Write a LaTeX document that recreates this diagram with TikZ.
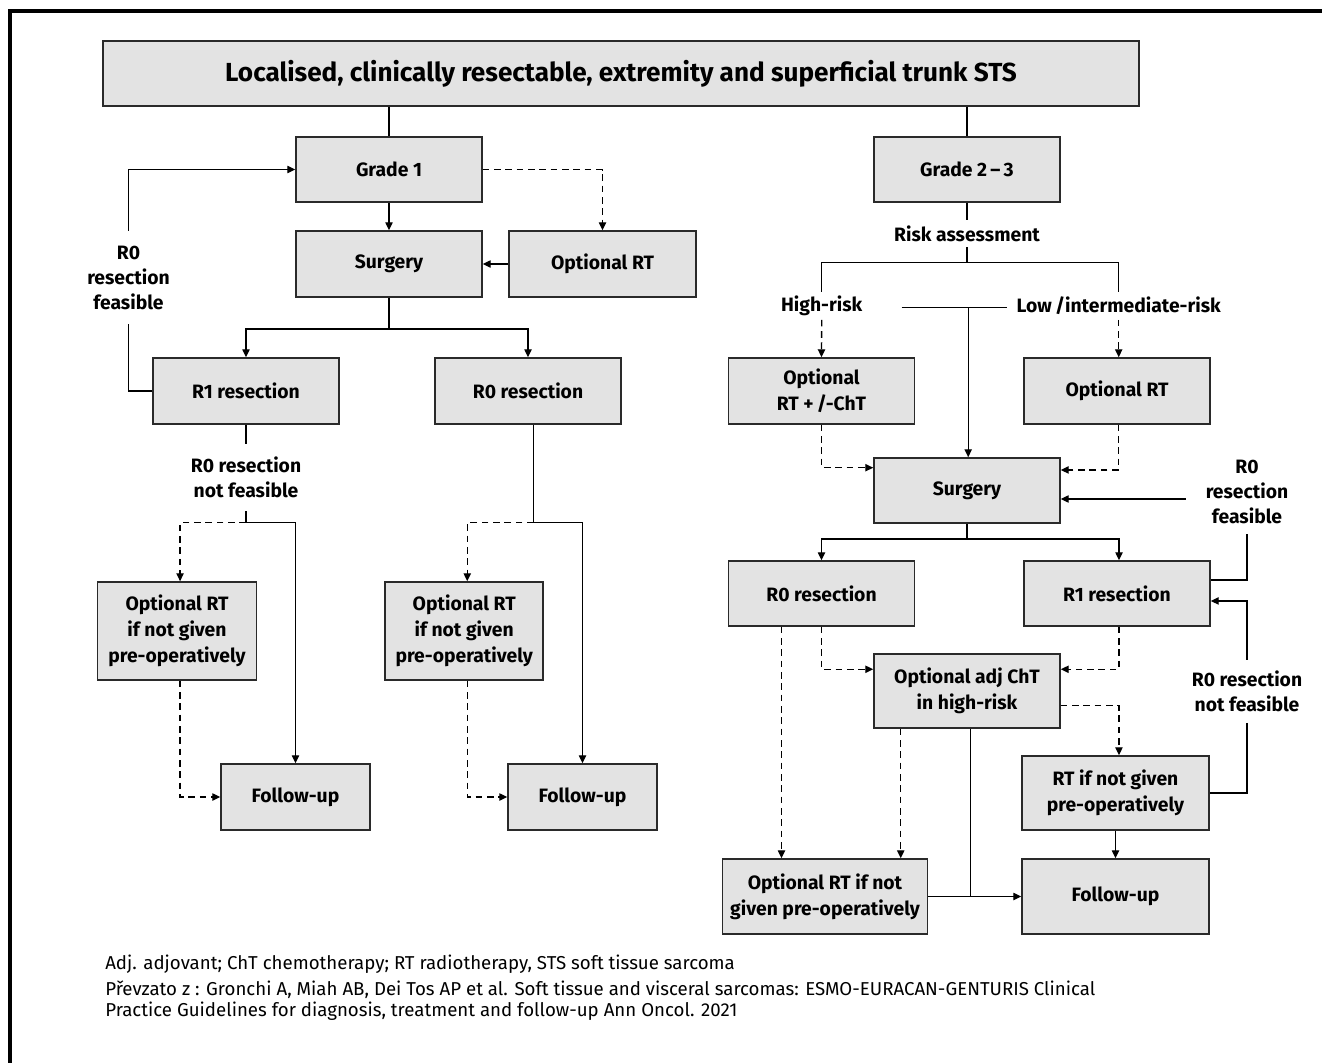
\documentclass[tikz,border=0pt]{standalone}
\usepackage{fontspec}
\setmainfont{Fira Sans}
\usetikzlibrary{arrows.meta}
\definecolor{boxfill}{HTML}{E3E3E3}
\definecolor{boxdraw}{HTML}{2A2A2A}
\begin{document}
\begin{tikzpicture}[x=0.75pt,y=-0.75pt,
  sz/.style 2 args={minimum width=#1*0.75pt,minimum height=#2*0.75pt},
  box/.style={draw=boxdraw,fill=boxfill,line width=1.1pt,inner sep=0pt,align=center,
    font=\bfseries\fontsize{14.5}{19.5}\selectfont},
  titlebox/.style={box,font=\bfseries\fontsize{19.6}{23}\selectfont},
  lbl/.style={inner sep=0pt,align=center,font=\bfseries\fontsize{14.5}{18.75}\selectfont},
  foot/.style={inner sep=0pt,align=left,anchor=west,font=\fontsize{14}{15.6}\selectfont},
  conn/.style={line width=1pt,draw=black},
  arr/.style={conn,-{Triangle[length=6pt,width=5.5pt]}},
  dsh/.style={conn,dash pattern=on 5pt off 3.5pt},
  darr/.style={arr,dash pattern=on 5pt off 3.5pt}]
\useasboundingbox (0,0) rectangle (1322,1063);
\fill[white] (0,0) rectangle (1322,1063);
\draw[line width=2.6pt] (10,1063) -- (10,11) -- (1322,11);

% ---------- boxes ----------
\node[titlebox,sz={1036}{65}] (title) at (621,73.5) {Localised, clinically resectable, extremity and superficial trunk STS};
% left branch
\node[box,sz={186}{65}] (g1) at (389,169.5) {Grade 1};
\node[box,sz={186}{66}] (surg1) at (389,264) {Surgery};
\node[box,sz={187}{66}] (optrt1) at (602.5,264) {Optional RT};
\node[box,sz={186}{66}] (r1L) at (246,391) {R1 resection};
\node[box,sz={186}{66}] (r0L) at (528,391) {R0 resection};
\node[box,sz={159}{98}] (ortA) at (177,631) {Optional RT\\if not given\\pre-operatively};
\node[box,sz={158}{98}] (ortB) at (464.2,631) {Optional RT\\if not given\\pre-operatively};
\node[box,sz={149}{66}] (fuA) at (295.5,797) {Follow-up};
\node[box,sz={149}{66}] (fuB) at (582.5,797) {Follow-up};
% right branch
\node[box,sz={186}{65}] (g23) at (967,169.5) {Grade 2\,–\,3};
\node[box,sz={186}{66}] (hrb) at (821.5,391) {Optional\\RT +\,/-ChT};
\node[box,sz={186}{66}] (lrb) at (1117,391) {Optional RT};
\node[box,sz={186}{65}] (surg2) at (967,490.5) {Surgery};
\node[box,sz={186}{65}] (r0R) at (821.5,593.5) {R0 resection};
\node[box,sz={186}{65}] (r1R) at (1117,593.5) {R1 resection};
\node[box,sz={186}{74}] (adj) at (967,691) {Optional adj ChT\\in high-risk};
\node[box,sz={187}{74}] (rtR) at (1115.5,793) {RT if not given\\pre-operatively};
\node[box,sz={205}{75}] (ortC) at (825,896.5) {Optional RT if not\\given pre-operatively};
\node[box,sz={187}{75}] (fuR) at (1115.5,896.5) {Follow-up};

% ---------- labels ----------
\node[lbl,sz={100}{93}] (lblL1) at (128.5,277.5) {R0\\resection\\feasible};
\node[lbl,sz={120}{67}] (lblL2) at (246,477.5) {R0 resection\\not feasible};
\node[lbl,sz={150}{27}] (risk) at (967,233.5) {Risk assessment};
\node[lbl,sz={80}{27}] (high) at (821.7,306) {High-risk};
\node[lbl,sz={200}{27}] (low) at (1118.7,306) {Low\,/intermediate-risk};
\node[lbl,sz={100}{84.6}] (lblR1) at (1247,491.7) {R0\\resection\\feasible};
\node[lbl,sz={120}{62.7}] (lblR2) at (1247,691.3) {R0 resection\\not feasible};

% ---------- footer ----------
\node[foot] (foot1) at (105,964) {Adj. adjovant; ChT chemotherapy; RT radiotherapy, STS soft tissue sarcoma};
\node[foot] (foot2) at (105,1001) {Převzato z : Gronchi A, Miah AB, Dei Tos AP et al. Soft tissue and visceral sarcomas: ESMO-EURACAN-GENTURIS Clinical\\Practice Guidelines for diagnosis, treatment and follow-up Ann Oncol. 2021};

% ---------- coordinates ----------
\coordinate (br1) at (389,329);
\coordinate (splitL) at (246,522.7);
\coordinate (splitR) at (533.7,522.7);
\coordinate (rsplit) at (967,262.3);
\coordinate (hl) at (901.5,307.3);
\coordinate (hr) at (1007,307.3);
\coordinate (fRs) at (1185.7,499);
\coordinate (br2) at (967,539);

% ---------- left connectors ----------
\draw[conn] (g1.north |- title.south) -- (g1.north);
\draw[arr] (g1.south) -- (surg1.north);
\draw[darr] (g1.east) -| (optrt1.north);
\draw[arr] (optrt1.west) -- (surg1.east);
\draw[conn] (surg1.south) -- (br1);
\draw[arr] (br1) -| (r1L.north);
\draw[arr] (br1) -| (r0L.north);
\draw[conn] (r1L.west) -| (lblL1.south);
\draw[arr] (lblL1.north) |- (g1.west);
\draw[conn] (r1L.south) -- (lblL2.north);
\draw[conn] (lblL2.south) -- (splitL);
\draw[darr] (splitL) -| ([xshift=2.3pt]ortA.north);
\draw[arr] (splitL) -| (fuA.north);
\draw[darr] ([xshift=2.3pt]ortA.south) |- (fuA.west);
\draw[conn] (r0L.south -| splitR) -- (splitR);
\draw[darr] (splitR) -| ([xshift=2.3pt]ortB.north);
\draw[arr] (splitR) -| (fuB.north);
\draw[darr] ([xshift=2.3pt]ortB.south) |- (fuB.west);

% ---------- right connectors ----------
\draw[conn] (g23.north |- title.south) -- (g23.north);
\draw[conn] (g23.south) -- (risk.north);
\draw[conn] (risk.south) -- (rsplit);
\draw[conn] (rsplit) -| (high.north);
\draw[conn] (rsplit) -| (low.north);
\draw[darr] (high.south) -- (hrb.north);
\draw[darr] (low.south) -- (low.south |- lrb.north);
\draw[conn] (hl) -- (hr);
\draw[arr] ([xshift=0.9pt]surg2.north |- hl) -- ([xshift=0.9pt]surg2.north);
\draw[darr] (hrb.south) |- ([yshift=17.1pt]surg2.west);
\draw[darr] (lrb.south -| low.south) |- ([yshift=15.4pt]surg2.east);
\draw[arr] (fRs) -- (fRs -| surg2.east);
\draw[conn] (lblR1.south) |- ([yshift=10.1pt]r1R.east);
\draw[arr] (lblR2.north) |- ([yshift=-5.6pt]r1R.east);
\draw[conn] (lblR2.south) |- (rtR.east);
\draw[conn] (surg2.south) -- (br2);
\draw[arr] (br2) -| (r0R.north);
\draw[arr] (br2) -| ([xshift=1.5pt]r1R.north);
\draw[darr] ([xshift=-30pt]r0R.south) -- ([xshift=-30pt]r0R.south |- ortC.north);
\draw[darr] (r0R.south) |- ([yshift=16.3pt]adj.west);
\draw[darr] ([xshift=1.5pt]r1R.south) |- ([yshift=16.3pt]adj.east);
\draw[darr] ([yshift=-11pt]adj.east) -| ([xshift=2.6pt]rtR.north);
\draw[darr] ([xshift=-49.7pt]adj.south) -- ([xshift=-49.7pt]adj.south |- ortC.north);
\draw[conn] ([xshift=2.5pt]adj.south) -- ([xshift=2.5pt]adj.south |- ortC.east);
\draw[arr] (ortC.east) -- (fuR.west);
\draw[arr] (rtR.south) -- (fuR.north);
\end{tikzpicture}
\end{document}
